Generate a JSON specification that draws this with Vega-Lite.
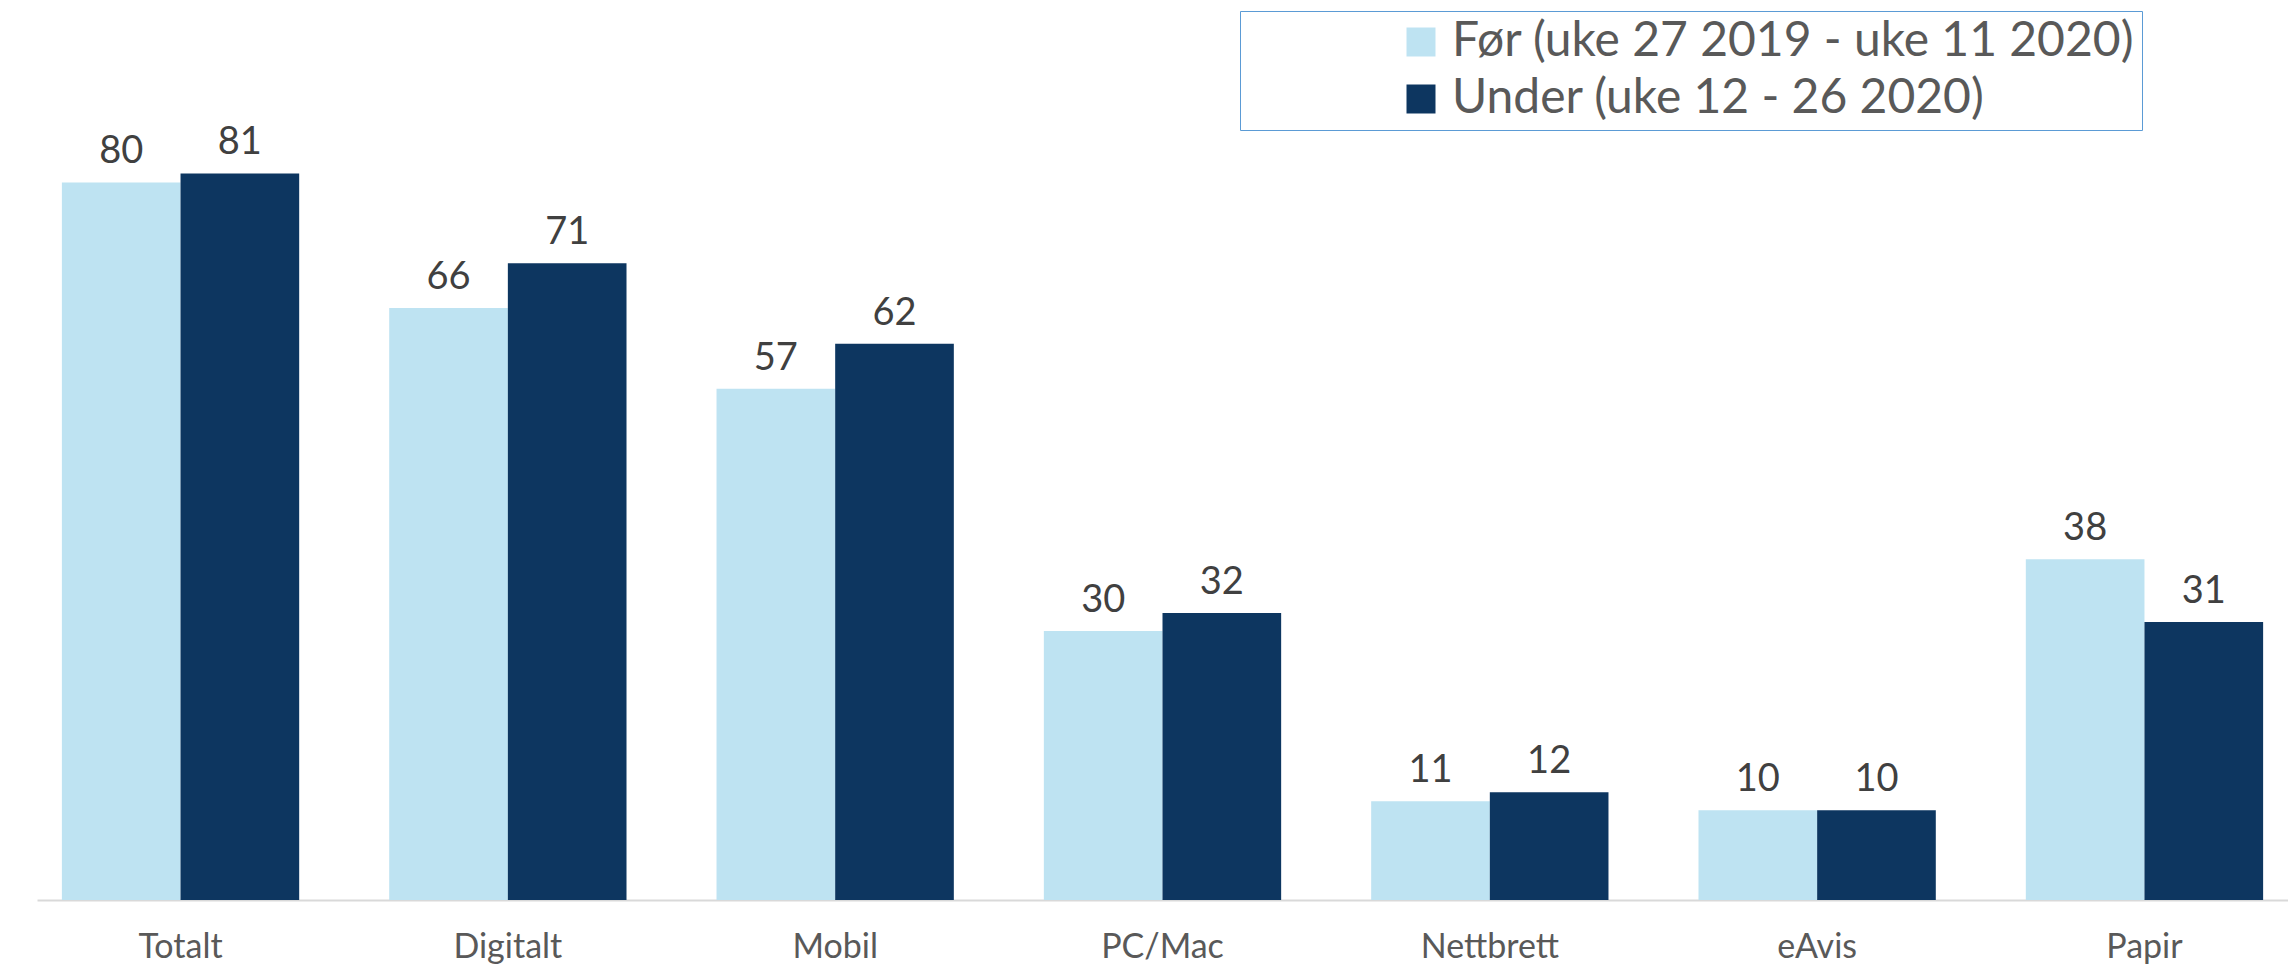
{
  "$schema": "https://vega.github.io/schema/vega-lite/v6.json",
  "width": 2251,
  "height": 897,
  "autosize": "none",
  "padding": {"left": 37, "top": 3, "right": 0, "bottom": 67},
  "background": "white",
  "config": {"view": {"stroke": null}, "font": "Lato"},
  "data": {"values": [
    {"kategori": "Totalt", "periode": "Før (uke 27 2019 - uke 11 2020)", "verdi": 80},
    {"kategori": "Totalt", "periode": "Under (uke 12 - 26 2020)", "verdi": 81},
    {"kategori": "Digitalt", "periode": "Før (uke 27 2019 - uke 11 2020)", "verdi": 66},
    {"kategori": "Digitalt", "periode": "Under (uke 12 - 26 2020)", "verdi": 71},
    {"kategori": "Mobil", "periode": "Før (uke 27 2019 - uke 11 2020)", "verdi": 57},
    {"kategori": "Mobil", "periode": "Under (uke 12 - 26 2020)", "verdi": 62},
    {"kategori": "PC/Mac", "periode": "Før (uke 27 2019 - uke 11 2020)", "verdi": 30},
    {"kategori": "PC/Mac", "periode": "Under (uke 12 - 26 2020)", "verdi": 32},
    {"kategori": "Nettbrett", "periode": "Før (uke 27 2019 - uke 11 2020)", "verdi": 11},
    {"kategori": "Nettbrett", "periode": "Under (uke 12 - 26 2020)", "verdi": 12},
    {"kategori": "eAvis", "periode": "Før (uke 27 2019 - uke 11 2020)", "verdi": 10},
    {"kategori": "eAvis", "periode": "Under (uke 12 - 26 2020)", "verdi": 10},
    {"kategori": "Papir", "periode": "Før (uke 27 2019 - uke 11 2020)", "verdi": 38},
    {"kategori": "Papir", "periode": "Under (uke 12 - 26 2020)", "verdi": 31}
  ]},
  "encoding": {
    "x": {
      "field": "kategori", "type": "nominal",
      "sort": ["Totalt", "Digitalt", "Mobil", "PC/Mac", "Nettbrett", "eAvis", "Papir"],
      "scale": {"paddingInner": 0.275, "paddingOuter": 0.076},
      "axis": {
        "title": null, "labelAngle": 0, "ticks": false,
        "domainColor": "#D9D9D9", "domainWidth": 2,
        "labelFontSize": 34, "labelColor": "#595959", "labelPadding": 30,
        "labelFont": "Lato"
      }
    },
    "xOffset": {
      "field": "periode", "type": "nominal",
      "sort": ["Før (uke 27 2019 - uke 11 2020)", "Under (uke 12 - 26 2020)"],
      "scale": {"paddingInner": 0, "paddingOuter": 0}
    },
    "y": {
      "field": "verdi", "type": "quantitative",
      "scale": {"domain": [0, 100], "nice": false},
      "axis": null
    }
  },
  "layer": [
    {
      "mark": {"type": "bar"},
      "encoding": {
        "color": {
          "field": "periode", "type": "nominal",
          "sort": ["Før (uke 27 2019 - uke 11 2020)", "Under (uke 12 - 26 2020)"],
          "scale": {"range": ["#BEE3F2", "#0D3660"]},
          "legend": {
            "title": null,
            "orient": "none",
            "legendX": 1203,
            "legendY": 8,
            "direction": "vertical",
            "symbolType": "square",
            "symbolSize": 841,
            "symbolStrokeWidth": 0,
            "symbolOffset": 150,
            "labelFontSize": 48,
            "labelColor": "#595959",
            "labelFont": "Lato",
            "labelLimit": 3000,
            "labelOffset": 7,
            "rowPadding": 9,
            "padding": 7,
            "strokeColor": "#5B9BD5",
            "fillColor": "white",
            "encode": {"legend": {"update": {"width": {"value": 1045}}}}
          }
        }
      }
    },
    {
      "mark": {"type": "text", "baseline": "alphabetic", "dy": -19, "fontSize": 38, "color": "#404040", "font": "Lato"},
      "encoding": {
        "text": {"field": "verdi", "type": "quantitative"}
      }
    }
  ]
}
